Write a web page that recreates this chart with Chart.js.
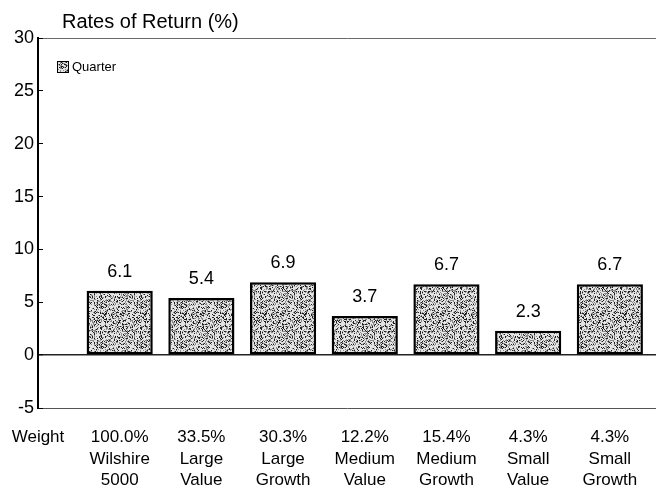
<!DOCTYPE html>
<html>
<head>
<meta charset="utf-8">
<script src="https://cdn.jsdelivr.net/npm/chart.js@4"></script>
<style>
    body { margin: 0; background: #fff; }
    #wrap { width: 656px; height: 493px; }
</style>
</head>
<body>
<div id="wrap"><canvas id="returnsChart" width="656" height="493"></canvas></div>
<script>
const categories = ['Wilshire 5000', 'Large Value', 'Large Growth', 'Medium Value', 'Medium Growth', 'Small Value', 'Small Growth'];
const weights = ['100.0%', '33.5%', '30.3%', '12.2%', '15.4%', '4.3%', '4.3%'];
const quarterReturns = [6.1, 5.4, 6.9, 3.7, 6.7, 2.3, 6.7];
const yTicks = [-5, 0, 5, 10, 15, 20, 25, 30];

const FONT = "'Liberation Sans', Arial, sans-serif";

// speckled grey fill like the printed bars
const makeStipple = () => {
    const c = document.createElement('canvas');
    c.width = 40; c.height = 40;
    const g = c.getContext('2d');
    g.fillStyle = '#e4e4e4';
    g.fillRect(0, 0, 40, 40);
    let s = 12345;
    for (let y = 0; y < 40; y++) {
        for (let x = 0; x < 40; x++) {
            s = (s * 16807) % 2147483647;
            const r = s / 2147483647;
            if (r < 0.42) {
                g.fillStyle = r < 0.18 ? '#1e1e1e' : '#8a8a8a';
                g.fillRect(x, y, 1, 1);
            }
        }
    }
    return g.createPattern(c, 'repeat');
};
const stipple = makeStipple();

const titleAndLegend = {
    id: 'titleAndLegend',
    afterDraw(chart) {
        const ctx = chart.ctx;
        ctx.save();
        ctx.fillStyle = '#000';
        ctx.textBaseline = 'middle';
        ctx.textAlign = 'left';
        ctx.font = `20px ${FONT}`;
        ctx.fillText('Rates of Return (%)', 62, 22);

        ctx.fillStyle = stipple;
        ctx.fillRect(57, 61, 11, 11);
        ctx.strokeStyle = '#000';
        ctx.lineWidth = 1;
        ctx.strokeRect(57.5, 61.5, 11, 11);
        ctx.fillStyle = '#000';
        ctx.font = `13px ${FONT}`;
        ctx.fillText(chart.data.datasets[0].label, 72, 67);
        ctx.restore();
    }
};

const valueLabels = {
    id: 'valueLabels',
    afterDatasetsDraw(chart) {
        const ctx = chart.ctx;
        const meta = chart.getDatasetMeta(0);
        ctx.save();
        ctx.fillStyle = '#000';
        ctx.font = `18px ${FONT}`;
        ctx.textAlign = 'center';
        ctx.textBaseline = 'bottom';
        meta.data.forEach((bar, i) => {
            ctx.fillText(quarterReturns[i].toFixed(1), bar.x, bar.y - 10);
        });
        ctx.restore();
    }
};

new Chart(document.getElementById('returnsChart'), {
    type: 'bar',
    data: {
        datasets: [{
            label: 'Quarter',
            data: quarterReturns.map((v, i) => ({ x: i, y: v })),
            backgroundColor: stipple,
            borderColor: '#000',
            borderWidth: 2.5,
            borderSkipped: false,
            categoryPercentage: 0.9,
            barPercentage: 0.9
        }]
    },
    options: {
        responsive: false,
        devicePixelRatio: 1,
        animation: false,
        layout: { padding: { top: 38, left: 0, right: 0, bottom: 0 } },
        plugins: {
            legend: { display: false },
            title: { display: false },
            tooltip: { enabled: false }
        },
        scales: {
            x: {
                type: 'linear',
                offset: false,
                min: -1,
                max: 6.565,
                afterBuildTicks: (axis) => {
                    axis.ticks = [-1].concat(categories.map((_, i) => i)).map(v => ({ value: v }));
                },
                afterFit: (axis) => {
                    axis.height = 85;
                    axis.paddingLeft = 0;
                    axis.paddingRight = 0;
                },
                grid: { display: false, drawTicks: false },
                border: { display: false },
                ticks: {
                    autoSkip: false,
                    maxRotation: 0,
                    padding: 19,
                    color: '#000',
                    font: { family: FONT, size: 17, lineHeight: 1.265 },
                    callback: (value) => {
                        if (value === -1) return 'Weight';
                        return [weights[value]].concat(categories[value].split(' '));
                    }
                }
            },
            y: {
                min: -5,
                max: 30,
                afterBuildTicks: (axis) => {
                    axis.ticks = yTicks.map(v => ({ value: v }));
                },
                afterFit: (axis) => {
                    axis.width = 38;
                    axis.paddingTop = 0;
                    axis.paddingBottom = 0;
                },
                border: { display: true, color: '#000', width: 2 },
                grid: {
                    tickLength: -5,
                    tickColor: '#000',
                    tickWidth: 1,
                    lineWidth: (c) => c.tick && c.tick.value === 0 ? 1.5 : 1,
                    color: (c) => {
                        if (!c.tick) return 'rgba(0,0,0,0)';
                        if (c.tick.value === 0) return '#222';
                        if (c.tick.value === 30) return '#6a6a6a';
                        if (c.tick.value === -5) return '#555';
                        return 'rgba(0,0,0,0)';
                    }
                },
                ticks: {
                    padding: 9,
                    color: '#000',
                    font: { family: FONT, size: 18 }
                }
            }
        }
    },
    plugins: [titleAndLegend, valueLabels]
});
</script>
</body>
</html>
